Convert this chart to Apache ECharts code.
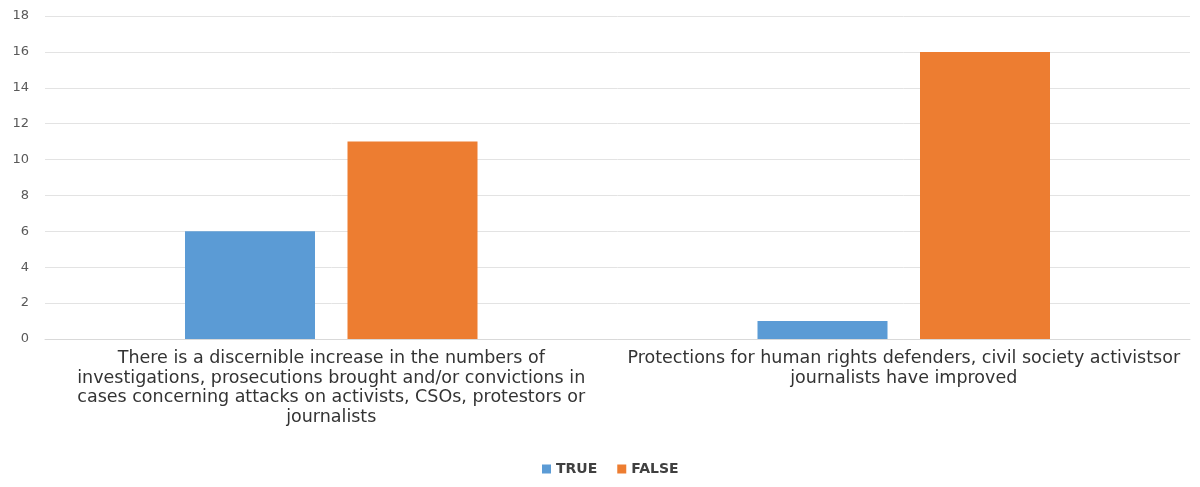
<!DOCTYPE html>
<html>
<head>
<meta charset="utf-8">
<script src="https://cdn.jsdelivr.net/npm/echarts@6/dist/echarts.min.js"></script>
<style>
  html, body { margin: 0; padding: 0; background: #fff; }
  #chart { width: 1200px; height: 487px; }
</style>
</head>
<body>
<div id="chart"></div>
<script>
// Survey statements (category axis), with explicit line breaks
const categories = [
  'There is a discernible increase in the numbers of\ninvestigations, prosecutions brought and/or convictions in\ncases concerning attacks on activists, CSOs, protestors or\njournalists',
  'Protections for human rights defenders, civil society activistsor\njournalists have improved'
];
const seriesNames = ['TRUE', 'FALSE'];
const trueValues = [6, 1];
const falseValues = [11, 16];
const yTicks = { min: 0, max: 18, interval: 2 };

const chart = echarts.init(document.getElementById('chart'));
chart.setOption({
  animation: false,
  grid: { left: 45, right: 10, top: 16, bottom: 148 },
  legend: {
    top: 457,
    left: 537,
    itemWidth: 9,
    itemHeight: 9,
    itemGap: 20,
    icon: 'rect',
    textStyle: { fontFamily: 'DejaVu Sans, sans-serif', fontWeight: 'bold', fontSize: 14, color: '#404040' },
    data: seriesNames
  },
  xAxis: {
    type: 'category',
    data: categories,
    axisLine: { lineStyle: { color: '#d9d9d9' } },
    axisTick: { show: false },
    axisLabel: {
      interval: 0,
      margin: 10,
      fontFamily: 'DejaVu Sans, sans-serif',
      fontSize: 17.5,
      lineHeight: 19.5,
      color: '#333333',
      align: 'center'
    }
  },
  yAxis: {
    type: 'value',
    min: yTicks.min,
    max: yTicks.max,
    interval: yTicks.interval,
    axisLine: { show: false },
    axisTick: { show: false },
    splitLine: { lineStyle: { color: '#e3e3e3' } },
    axisLabel: { fontFamily: 'DejaVu Sans, sans-serif', fontSize: 13, color: '#595959', margin: 16 }
  },
  series: [
    { name: seriesNames[0], type: 'bar', data: trueValues, itemStyle: { color: '#5B9BD5' }, barWidth: 130, barGap: '25%' },
    { name: seriesNames[1], type: 'bar', data: falseValues, itemStyle: { color: '#ED7D31' }, barWidth: 130, barGap: '25%' }
  ]
});
</script>
</body>
</html>
